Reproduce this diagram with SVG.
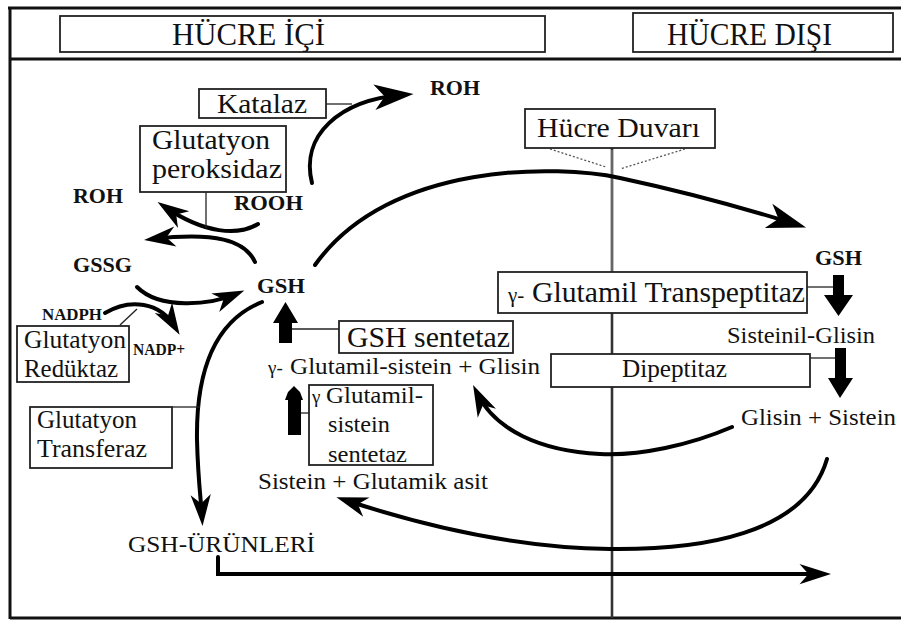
<svg xmlns="http://www.w3.org/2000/svg" width="901" height="626" viewBox="0 0 901 626">
<defs>
<style>
.t{font-family:"Liberation Serif","Times New Roman",serif;fill:#111}
.b{font-weight:bold}
.box{fill:#fff;stroke:#222;stroke-width:1.8}
.frame{fill:none;stroke:#111;stroke-width:3}
.c{fill:none;stroke:#000;stroke-width:4;stroke-linecap:round}
.thin{fill:none;stroke:#222;stroke-width:1.3}
.dot{fill:none;stroke:#555;stroke-width:1.3;stroke-dasharray:2 2}
.blk{fill:#000}
</style>
<marker id="ah" markerUnits="userSpaceOnUse" markerWidth="44" markerHeight="30" viewBox="-26 -13 38 26" refX="0" refY="0" orient="auto">
<path d="M10,0 L-24,-11 L-15,0 L-24,11 Z" fill="#000"/>
</marker>
<marker id="ahs" markerUnits="userSpaceOnUse" markerWidth="36" markerHeight="26" viewBox="-22 -11 32 22" refX="0" refY="0" orient="auto">
<path d="M8,0 L-20,-9 L-12,0 L-20,9 Z" fill="#000"/>
</marker>
</defs>
<rect width="901" height="626" fill="#fff"/>

<g id="frame">
<line class="frame" x1="8" y1="8" x2="901" y2="8"/>
<line class="frame" x1="10" y1="7" x2="10" y2="619"/>
<line class="frame" x1="10" y1="59" x2="901" y2="59"/>
<line class="frame" x1="10" y1="618" x2="901" y2="618"/>
</g>

<g id="wall">
<line x1="612" y1="148" x2="612" y2="618" stroke="#333" stroke-width="2.6"/>
<line x1="612" y1="150" x2="612" y2="272" stroke="#999" stroke-width="1"/>
</g>

<g id="connectors">
<path class="c" d="M312,183 C300,135 340,100 402,95" marker-end="url(#ah)"/>
<path class="c" d="M315,265 C390,160 560,165 620,178 C690,193 750,210 795,224" marker-end="url(#ah)"/>
<path class="c" d="M258,224 C238,236 205,234 165,207" marker-end="url(#ahs)"/>
<path class="c" d="M255,262 C245,240 215,232 153,239" marker-end="url(#ahs)"/>
<path class="c" d="M137,287 C160,310 210,305 236,294" marker-end="url(#ahs)"/>
<path class="c" d="M105,313 C130,298 160,302 175,327" marker-end="url(#ahs)"/>
<path class="c" d="M262,302 C212,322 196,375 197,440 C198,480 201,500 202,517" marker-end="url(#ahs)"/>
<path class="c" d="M218,557 L218,574 L822,574" stroke-linecap="butt" marker-end="url(#ahs)"/>
<path class="c" d="M827,459 C805,535 700,550 610,549 C520,548 430,528 345,500" marker-end="url(#ahs)"/>
<path class="c" d="M732,427 C690,445 640,456 600,454 C540,451 495,430 477,393" marker-end="url(#ahs)"/>
<line class="thin" x1="326" y1="104" x2="352" y2="104"/>
<line class="thin" x1="206" y1="192" x2="206" y2="228"/>
<line class="thin" x1="120" y1="325" x2="137" y2="309"/>
<line class="thin" x1="172" y1="407" x2="200" y2="407"/>
<line class="thin" x1="292" y1="329" x2="339" y2="329"/>
<line class="thin" x1="300" y1="413" x2="309" y2="413"/>
<line class="thin" x1="807" y1="287" x2="834" y2="287"/>
<line class="thin" x1="810" y1="358" x2="836" y2="358"/>
<line class="dot" x1="550" y1="149" x2="606" y2="167"/>
<line class="dot" x1="685" y1="149" x2="620" y2="169"/>
<polygon class="blk" points="833,275 844,275 844,295 853,295 838.5,316 824,295 833,295"/>
<polygon class="blk" points="835,348 846,348 846,378 853,378 840,398 828,378 835,378"/>
<polygon class="blk" points="279,343 292,343 292,323 298,323 285.5,302 273,323 279,323"/>
<polygon class="blk" points="288,435 301,435 301,400 303,400 300,392 294,386 288,392 285,400 288,400"/>
</g>

<g id="hucre-ici">
<rect class="box" x="60" y="16" width="485" height="36" stroke-width="2"/>
<text class="t" x="172" y="45" font-size="31" textLength="153" lengthAdjust="spacingAndGlyphs">HÜCRE İÇİ</text>
</g>
<g id="hucre-disi">
<rect class="box" x="633" y="13" width="260" height="39" stroke-width="2"/>
<text class="t" x="667" y="45" font-size="31" textLength="165" lengthAdjust="spacingAndGlyphs">HÜCRE DIŞI</text>
</g>

<g id="katalaz">
<rect class="box" x="199" y="89" width="127" height="29"/>
<text class="t" x="217" y="113" font-size="28" textLength="90" lengthAdjust="spacingAndGlyphs">Katalaz</text>
</g>
<g id="glutatyon-peroksidaz">
<rect class="box" x="140" y="126" width="146" height="66"/>
<text class="t" x="152" y="149" font-size="28" textLength="118" lengthAdjust="spacingAndGlyphs">Glutatyon</text>
<text class="t" x="152" y="178" font-size="28" textLength="130" lengthAdjust="spacingAndGlyphs">peroksidaz</text>
</g>
<g id="roh-top"><text class="t b" x="430" y="95" font-size="21" textLength="50" lengthAdjust="spacingAndGlyphs">ROH</text></g>
<g id="roh-left"><text class="t b" x="73" y="203" font-size="21" textLength="50" lengthAdjust="spacingAndGlyphs">ROH</text></g>
<g id="rooh"><text class="t b" x="234" y="210" font-size="21" textLength="69" lengthAdjust="spacingAndGlyphs">ROOH</text></g>
<g id="gssg"><text class="t b" x="73" y="272" font-size="21" textLength="59" lengthAdjust="spacingAndGlyphs">GSSG</text></g>
<g id="gsh"><text class="t b" x="257" y="293" font-size="21" textLength="48" lengthAdjust="spacingAndGlyphs">GSH</text></g>
<g id="nadph"><text class="t b" x="42" y="320" font-size="16" textLength="60" lengthAdjust="spacingAndGlyphs">NADPH</text></g>
<g id="nadp"><text class="t b" x="133" y="355" font-size="16" textLength="52" lengthAdjust="spacingAndGlyphs">NADP+</text></g>
<g id="glutatyon-reduktaz">
<rect class="box" x="17" y="326" width="112" height="56"/>
<text class="t" x="24" y="348" font-size="26" textLength="102" lengthAdjust="spacingAndGlyphs">Glutatyon</text>
<text class="t" x="24" y="377" font-size="26" textLength="94" lengthAdjust="spacingAndGlyphs">Redüktaz</text>
</g>
<g id="glutatyon-transferaz">
<rect class="box" x="30" y="407" width="142" height="61"/>
<text class="t" x="37" y="428" font-size="26" textLength="100" lengthAdjust="spacingAndGlyphs">Glutatyon</text>
<text class="t" x="37" y="457" font-size="26" textLength="110" lengthAdjust="spacingAndGlyphs">Transferaz</text>
</g>
<g id="gsh-sentetaz">
<rect class="box" x="339" y="321" width="174" height="32"/>
<text class="t" x="347" y="347" font-size="29" textLength="163" lengthAdjust="spacingAndGlyphs">GSH sentetaz</text>
</g>
<g id="glutamil-sistein-glisin">
<text class="t" x="268" y="374" font-size="24"><tspan font-size="19">γ-</tspan><tspan x="290" textLength="250" lengthAdjust="spacingAndGlyphs">Glutamil-sistein + Glisin</tspan></text>
</g>
<g id="glutamil-sistein-sentetaz">
<rect class="box" x="309" y="385" width="124" height="80"/>
<text class="t" x="312" y="403" font-size="24"><tspan font-size="19">γ</tspan><tspan x="326" textLength="97" lengthAdjust="spacingAndGlyphs">Glutamil-</tspan></text>
<text class="t" x="328" y="432" font-size="24" textLength="62" lengthAdjust="spacingAndGlyphs">sistein</text>
<text class="t" x="328" y="462" font-size="24" textLength="79" lengthAdjust="spacingAndGlyphs">sentetaz</text>
</g>
<g id="sistein-glutamik-asit"><text class="t" x="258" y="489" font-size="24" textLength="230" lengthAdjust="spacingAndGlyphs">Sistein + Glutamik asit</text></g>
<g id="gsh-urunleri"><text class="t" x="128" y="552" font-size="24" textLength="187" lengthAdjust="spacingAndGlyphs">GSH-ÜRÜNLERİ</text></g>
<g id="hucre-duvari">
<rect class="box" x="525" y="109" width="190" height="39"/>
<text class="t" x="537" y="137" font-size="28" textLength="163" lengthAdjust="spacingAndGlyphs">Hücre Duvarı</text>
</g>
<g id="gsh-out"><text class="t b" x="815" y="265" font-size="21" textLength="47" lengthAdjust="spacingAndGlyphs">GSH</text></g>
<g id="transpeptitaz">
<rect class="box" x="498" y="272" width="309" height="41"/>
<text class="t" x="508" y="302" font-size="29"><tspan font-size="21">γ-</tspan><tspan x="532" textLength="273" lengthAdjust="spacingAndGlyphs">Glutamil Transpeptitaz</tspan></text>
</g>
<g id="sisteinil-glisin"><text class="t" x="727" y="343" font-size="24" textLength="148" lengthAdjust="spacingAndGlyphs">Sisteinil-Glisin</text></g>
<g id="dipeptitaz">
<rect class="box" x="551" y="354" width="259" height="33"/>
<text class="t" x="622" y="377" font-size="25" textLength="105" lengthAdjust="spacingAndGlyphs">Dipeptitaz</text>
</g>
<g id="glisin-sistein"><text class="t" x="741" y="425" font-size="24" textLength="155" lengthAdjust="spacingAndGlyphs">Glisin + Sistein</text></g>
</svg>
